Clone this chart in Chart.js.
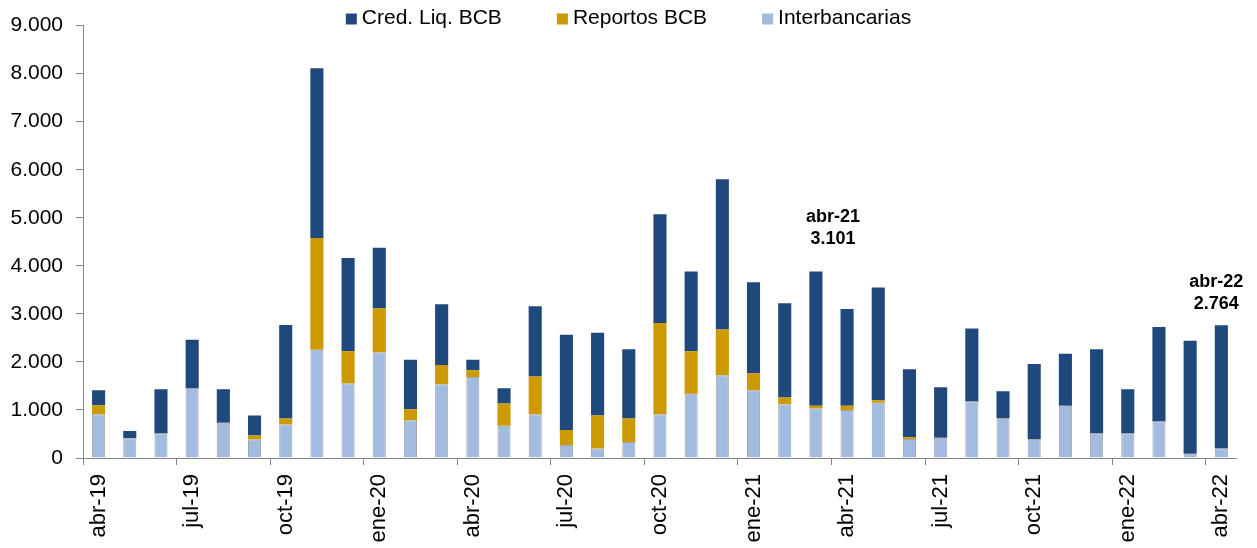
<!DOCTYPE html>
<html>
<head>
<meta charset="utf-8">
<script src="https://cdn.jsdelivr.net/npm/chart.js@4.4.1/dist/chart.umd.min.js"></script>
<style>
  html, body { margin: 0; padding: 0; background: #fff; }
</style>
</head>
<body>
<canvas id="myChart" width="1257" height="548"></canvas>
<script>
const meses = ['abr-19', 'may-19', 'jun-19', 'jul-19', 'ago-19', 'sep-19', 'oct-19', 'nov-19', 'dic-19',
  'ene-20', 'feb-20', 'mar-20', 'abr-20', 'may-20', 'jun-20', 'jul-20', 'ago-20', 'sep-20', 'oct-20', 'nov-20', 'dic-20',
  'ene-21', 'feb-21', 'mar-21', 'abr-21', 'may-21', 'jun-21', 'jul-21', 'ago-21', 'sep-21', 'oct-21', 'nov-21', 'dic-21',
  'ene-22', 'feb-22', 'mar-22', 'abr-22'];

const interbancarias = [913, 410, 512, 1459, 733, 387, 699, 2255, 1549, 2199, 788, 1535, 1687, 671, 913, 269, 196, 334,
  913, 1335, 1722, 1411, 1120, 1031, 1000, 1148, 395, 424, 1176, 830, 394, 1086, 512, 512, 761, 90, 200];

const reportos = [187, 0, 0, 0, 0, 83, 124, 2323, 671, 920, 229, 402, 139, 463, 781, 312, 689, 489,
  1895, 885, 954, 352, 139, 55, 90, 55, 35, 0, 0, 0, 0, 0, 0, 0, 0, 0, 0];

const credLiq = [311, 150, 920, 1003, 699, 415, 1943, 3533, 1943, 1259, 1030, 1265, 221, 318, 1466, 1985, 1722, 1438,
  2268, 1660, 3126, 1895, 1964, 2794, 2011, 2345, 1416, 1049, 1521, 560, 1563, 1085, 1749, 920, 1964, 2351, 2564];

const FONT = '"Liberation Sans", Arial, sans-serif';

// miles con punto
function fmt(v) {
  return String(v).replace(/\B(?=(\d{3})+(?!\d))/g, '.');
}

// leyenda arriba, encima del area del grafico
const topLegend = {
  id: 'topLegend',
  afterDraw(chart) {
    const ctx = chart.ctx;
    const items = chart.data.datasets.slice().reverse();
    const box = 11, gapText = 5, gapItem = 55, y = 18;
    ctx.save();
    ctx.font = '21px ' + FONT;
    ctx.textBaseline = 'middle';
    const widths = items.map(d => box + gapText + ctx.measureText(d.label).width);
    const total = widths.reduce((a, b) => a + b, 0) + gapItem * (items.length - 1);
    let x = chart.width / 2 - total / 2;
    items.forEach((d, i) => {
      ctx.fillStyle = d.backgroundColor;
      ctx.fillRect(x, y - box / 2 + 1, box, box);
      ctx.fillStyle = '#000';
      ctx.fillText(d.label, x + box + gapText, y);
      x += widths[i] + gapItem;
    });
    ctx.restore();
  }
};

// etiquetas "mes / total"
const notes = {
  id: 'notes',
  afterDatasetsDraw(chart, args, opts) {
    const { ctx, scales: { x, y } } = chart;
    ctx.save();
    ctx.font = 'bold 18px ' + FONT;
    ctx.textAlign = 'center';
    ctx.textBaseline = 'middle';
    ctx.fillStyle = '#000';
    opts.items.forEach(n => {
      const total = chart.data.datasets.reduce((s, d) => s + d.data[n.index], 0);
      const px = x.getPixelForValue(n.index) + n.dx;
      const py = y.getPixelForValue(n.at);
      ctx.fillText(chart.data.labels[n.index], px, py - 22);
      ctx.fillText(fmt(total), px, py);
    });
    ctx.restore();
  }
};

const ctx = document.getElementById('myChart');

new Chart(ctx, {
  type: 'bar',
  data: {
    labels: meses,
    datasets: [
      {
        label: 'Interbancarias',
        data: interbancarias,
        backgroundColor: '#A2BBE0',
        borderColor: '#A6A6A6',
        borderWidth: 1
      },
      {
        label: 'Reportos BCB',
        data: reportos,
        backgroundColor: '#CC9900',
        borderWidth: 0
      },
      {
        label: 'Cred. Liq. BCB',
        data: credLiq,
        backgroundColor: '#1F497D',
        borderWidth: 0
      }
    ]
  },
  options: {
    responsive: false,
    animation: false,
    devicePixelRatio: 1,
    barPercentage: 0.42,
    categoryPercentage: 1,
    layout: { padding: { top: 24, right: 19.6, bottom: 0, left: 0 } },
    plugins: {
      legend: { display: false },
      tooltip: { enabled: false },
      notes: {
        items: [
          { index: 24, at: 4562, dx: -14 },
          { index: 36, at: 3214, dx: -5 }
        ]
      }
    },
    scales: {
      x: {
        stacked: true,
        offset: true,
        border: { color: '#868686', width: 1 },
        grid: {
          offset: true,
          drawOnChartArea: false,
          drawTicks: true,
          tickLength: 7,
          color: c => (c.index % 3 === 0 ? '#868686' : 'rgba(0,0,0,0)')
        },
        ticks: {
          autoSkip: false,
          maxRotation: 90,
          minRotation: 90,
          padding: 9,
          color: '#000',
          font: { family: FONT, size: 22 },
          callback: (v, i) => (i % 3 === 0 ? meses[i] : '')
        },
        afterFit: s => { s.height = 90; }
      },
      y: {
        stacked: true,
        min: 0,
        max: 9000,
        border: { color: '#868686', width: 1 },
        grid: {
          drawOnChartArea: false,
          tickLength: 7,
          color: '#868686'
        },
        ticks: {
          stepSize: 1000,
          padding: 13,
          color: '#000',
          font: { family: FONT, size: 21 },
          callback: v => fmt(v)
        },
        afterFit: s => { s.width = 83; }
      }
    }
  },
  plugins: [topLegend, notes]
});
</script>
</body>
</html>
